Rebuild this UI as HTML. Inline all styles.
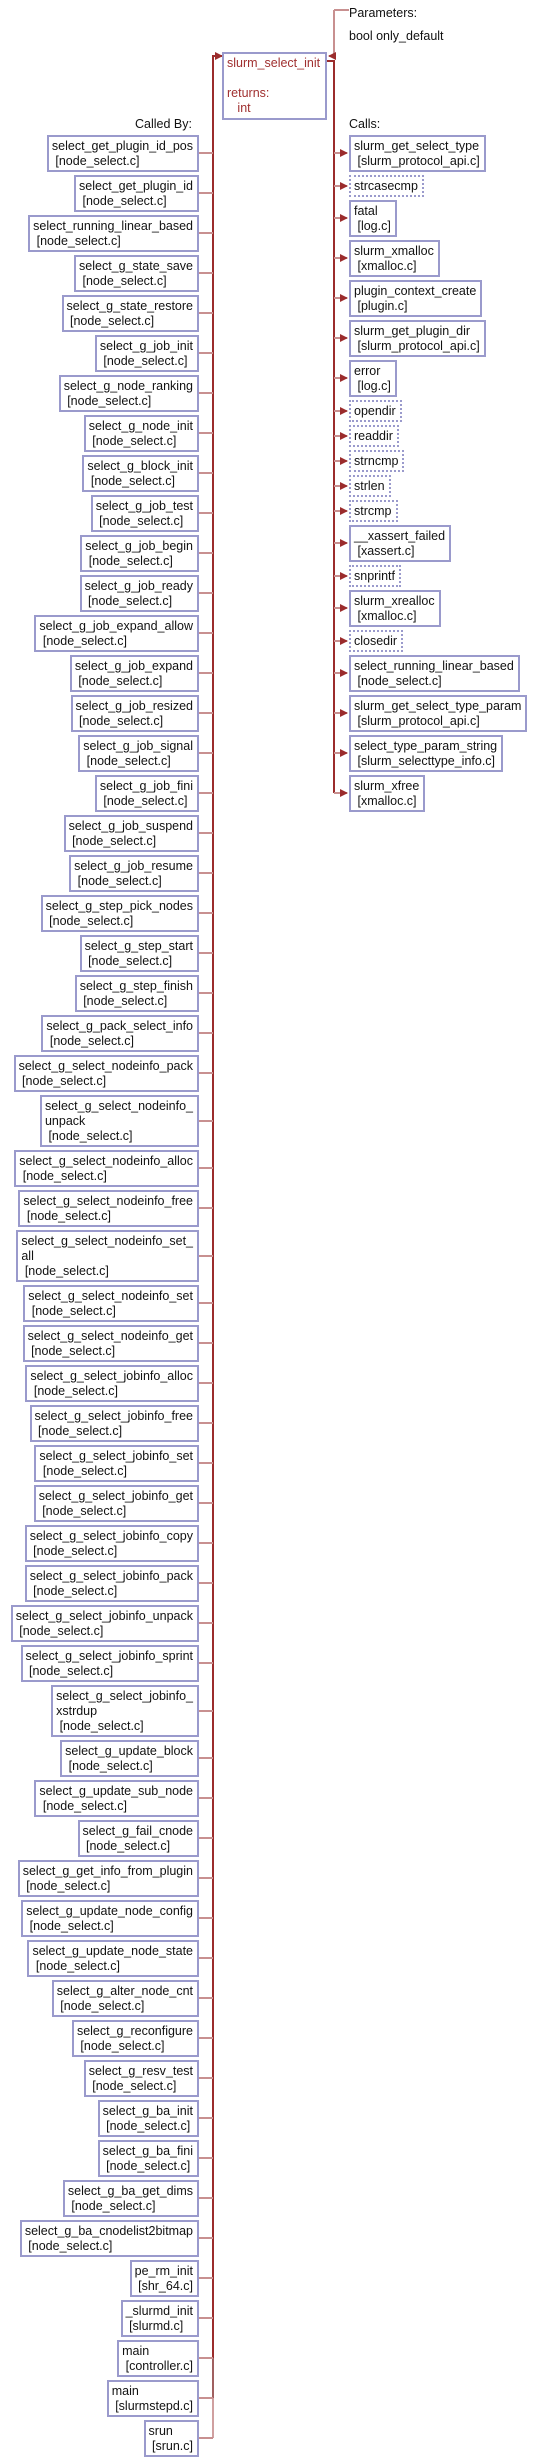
<!DOCTYPE html>
<html><head><meta charset="utf-8"><style>
html,body{margin:0;padding:0;background:#fff;}
body{width:536px;height:2463px;position:relative;overflow:hidden;font-family:"Liberation Sans",sans-serif;font-size:12.5px;line-height:15px;color:#111;}
.b{position:absolute;box-sizing:border-box;border:2px solid #9a9acc;padding:2px 4px 0 3px;white-space:pre;background:#fff;height:37px;}
.l{right:337px;}
.t{height:52px;}
.r{left:349px;}
.d{border:2px dotted #9a9acc;height:22px;padding-top:2px;}
.lab{position:absolute;white-space:pre;}
svg{position:absolute;left:0;top:0;}
</style></head><body>
<svg width="536" height="2463">
<defs><marker id="a" markerWidth="8" markerHeight="8" refX="7" refY="4" orient="auto" markerUnits="userSpaceOnUse"><path d="M0,0 L8,4 L0,8 z" fill="#9b2c2c"/></marker></defs>
<g fill="none" stroke-width="2">
<path d="M334,10 H349 M334,10 V56 H329" stroke="#c89090" marker-end="url(#a)"/>
<path d="M327,61 H334 V793" stroke="#9b2c2c"/>
<path d="M213,2358 V56 H222" stroke="#9b2c2c" marker-end="url(#a)"/>
<path d="M213,2358 V2398" stroke="#a06060"/>
<path d="M213,2398 V2438" stroke="#d0a0a0"/>
<g stroke="#c89090">
<path d="M334,153H347" marker-end="url(#a)"/>
<path d="M334,186H347" marker-end="url(#a)"/>
<path d="M334,218H347" marker-end="url(#a)"/>
<path d="M334,258H347" marker-end="url(#a)"/>
<path d="M334,298H347" marker-end="url(#a)"/>
<path d="M334,338H347" marker-end="url(#a)"/>
<path d="M334,378H347" marker-end="url(#a)"/>
<path d="M334,411H347" marker-end="url(#a)"/>
<path d="M334,436H347" marker-end="url(#a)"/>
<path d="M334,461H347" marker-end="url(#a)"/>
<path d="M334,486H347" marker-end="url(#a)"/>
<path d="M334,511H347" marker-end="url(#a)"/>
<path d="M334,543H347" marker-end="url(#a)"/>
<path d="M334,576H347" marker-end="url(#a)"/>
<path d="M334,608H347" marker-end="url(#a)"/>
<path d="M334,641H347" marker-end="url(#a)"/>
<path d="M334,673H347" marker-end="url(#a)"/>
<path d="M334,713H347" marker-end="url(#a)"/>
<path d="M334,753H347" marker-end="url(#a)"/>
<path d="M334,793H347" marker-end="url(#a)"/>
</g>
<g stroke="#c89090" id="lc"></g>
</g>
</svg>
<div class="lab" style="left:349px;top:6px;">Parameters:</div>
<div class="lab" style="left:349px;top:29px;">bool only_default</div>
<div class="b" style="left:222px;top:52px;width:105px;height:68px;color:#a03030;padding-left:3px;">slurm_select_init

returns:
   int</div>
<div class="lab" style="right:344px;top:117px;">Called By:</div>
<div class="lab" style="left:349px;top:117px;">Calls:</div>

<div class="b r" style="top:135px">slurm_get_select_type
 [slurm_protocol_api.c]</div>
<div class="b r d" style="top:175px">strcasecmp</div>
<div class="b r" style="top:200px">fatal
 [log.c]</div>
<div class="b r" style="top:240px">slurm_xmalloc
 [xmalloc.c]</div>
<div class="b r" style="top:280px">plugin_context_create
 [plugin.c]</div>
<div class="b r" style="top:320px">slurm_get_plugin_dir
 [slurm_protocol_api.c]</div>
<div class="b r" style="top:360px">error
 [log.c]</div>
<div class="b r d" style="top:400px">opendir</div>
<div class="b r d" style="top:425px">readdir</div>
<div class="b r d" style="top:450px">strncmp</div>
<div class="b r d" style="top:475px">strlen</div>
<div class="b r d" style="top:500px">strcmp</div>
<div class="b r" style="top:525px">__xassert_failed
 [xassert.c]</div>
<div class="b r d" style="top:565px">snprintf</div>
<div class="b r" style="top:590px">slurm_xrealloc
 [xmalloc.c]</div>
<div class="b r d" style="top:630px">closedir</div>
<div class="b r" style="top:655px">select_running_linear_based
 [node_select.c]</div>
<div class="b r" style="top:695px">slurm_get_select_type_param
 [slurm_protocol_api.c]</div>
<div class="b r" style="top:735px">select_type_param_string
 [slurm_selecttype_info.c]</div>
<div class="b r" style="top:775px">slurm_xfree
 [xmalloc.c]</div>

<div id="left"></div>
<script>
var items=[
["select_get_plugin_id_pos"],["select_get_plugin_id"],["select_running_linear_based"],["select_g_state_save"],["select_g_state_restore"],["select_g_job_init"],["select_g_node_ranking"],["select_g_node_init"],["select_g_block_init"],["select_g_job_test"],["select_g_job_begin"],["select_g_job_ready"],["select_g_job_expand_allow"],["select_g_job_expand"],["select_g_job_resized"],["select_g_job_signal"],["select_g_job_fini"],["select_g_job_suspend"],["select_g_job_resume"],["select_g_step_pick_nodes"],["select_g_step_start"],["select_g_step_finish"],["select_g_pack_select_info"],["select_g_select_nodeinfo_pack"],["select_g_select_nodeinfo_\nunpack",1],["select_g_select_nodeinfo_alloc"],["select_g_select_nodeinfo_free"],["select_g_select_nodeinfo_set_\nall",1],["select_g_select_nodeinfo_set"],["select_g_select_nodeinfo_get"],["select_g_select_jobinfo_alloc"],["select_g_select_jobinfo_free"],["select_g_select_jobinfo_set"],["select_g_select_jobinfo_get"],["select_g_select_jobinfo_copy"],["select_g_select_jobinfo_pack"],["select_g_select_jobinfo_unpack"],["select_g_select_jobinfo_sprint"],["select_g_select_jobinfo_\nxstrdup",1],["select_g_update_block"],["select_g_update_sub_node"],["select_g_fail_cnode"],["select_g_get_info_from_plugin"],["select_g_update_node_config"],["select_g_update_node_state"],["select_g_alter_node_cnt"],["select_g_reconfigure"],["select_g_resv_test"],["select_g_ba_init"],["select_g_ba_fini"],["select_g_ba_get_dims"],["select_g_ba_cnodelist2bitmap"],
["pe_rm_init",0,"shr_64.c"],["_slurmd_init",0,"slurmd.c"],["main",0,"controller.c"],["main",0,"slurmstepd.c"],["srun",0,"srun.c"]];
var y=135,h='',p='';
items.forEach(function(it){
 var tall=it[1]?1:0,f=it[2]||"node_select.c";
 h+='<div class="b l'+(tall?' t':'')+'" style="top:'+y+'px">'+it[0]+'\n ['+f+']</div>';
 var m=y+(tall?26:18);
 p+='<path d="M199,'+m+'H213"/>';
 y+=tall?55:40;
});
document.getElementById('left').innerHTML=h;
document.getElementById('lc').innerHTML=p;
</script>
</body></html>
